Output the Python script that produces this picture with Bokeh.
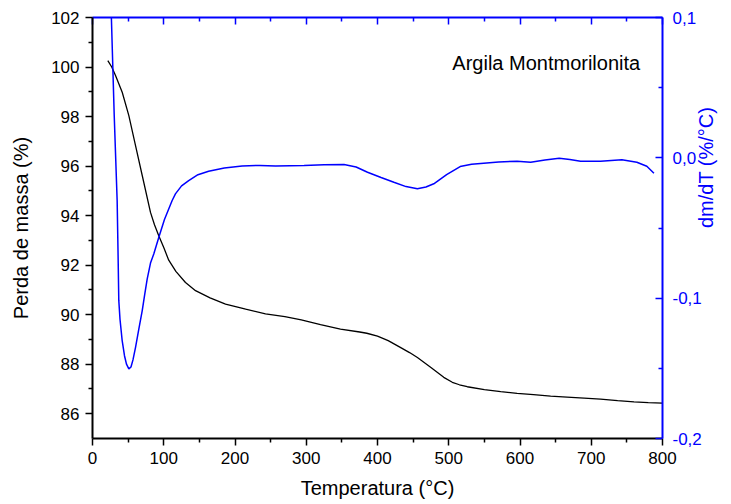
import math
from bokeh.plotting import figure
from bokeh.models import Range1d, LinearAxis, FixedTicker, CustomJSTickFormatter, Label
from bokeh.embed import file_html
from bokeh.resources import INLINE

# ---- data ----
temp_tg = [21.5, 27, 32.3, 41.7, 51, 60.4, 69.8, 81.4, 87, 93, 100, 107, 117, 130.5,
           144.6, 165, 186.7, 215, 242.8, 270, 293, 320, 348, 375, 385, 400, 415, 432,
           445, 456, 475, 493, 505, 515, 526, 550, 573, 596, 619, 643, 666, 690, 713,
           737, 760, 780, 800]
mass_tg = [100.26, 100.0, 99.66, 98.98, 98.04, 96.83, 95.62, 94.13, 93.63, 93.19, 92.71,
           92.2, 91.75, 91.30, 90.97, 90.68, 90.43, 90.22, 90.03, 89.92, 89.79, 89.6,
           89.42, 89.3, 89.25, 89.13, 88.95, 88.68, 88.47, 88.27, 87.87, 87.47, 87.27,
           87.17, 87.09, 86.97, 86.89, 86.82, 86.77, 86.71, 86.67, 86.63, 86.59, 86.53,
           86.48, 86.45, 86.43]

temp_dtg = [25, 26.5, 30.5, 34.6, 35.8, 36.9, 38.6, 41.6, 44.9, 47.7, 51, 54, 56.8, 60.4,
            65, 69.8, 73.4, 76.8, 81.4, 86.1, 93.1, 101, 111.8, 116.4, 125, 135, 148,
            163, 185, 210, 235, 257, 297, 325, 353, 370, 386, 405, 423, 440, 456, 468,
            479, 497, 516, 532, 549, 570, 596, 615, 635, 655, 670, 685, 713, 743, 764,
            778, 788]
dtg = [0.13, 0.10, 0.03, -0.0305, -0.066, -0.1016, -0.115, -0.130, -0.141, -0.147,
       -0.1504, -0.149, -0.144, -0.135, -0.122, -0.1088, -0.097, -0.0862, -0.075,
       -0.0684, -0.0566, -0.044, -0.0304, -0.0257, -0.020, -0.0162, -0.012, -0.0095,
       -0.0072, -0.0058, -0.0054, -0.0058, -0.0055, -0.005, -0.0048, -0.0065, -0.0103,
       -0.014, -0.0174, -0.0205, -0.0221, -0.0208, -0.0185, -0.012, -0.0062, -0.0045,
       -0.0038, -0.003, -0.0024, -0.0031, -0.0015, -0.0003, -0.0012, -0.0024, -0.0024,
       -0.0014, -0.0031, -0.006, -0.011]

x_major = [0, 100, 200, 300, 400, 500, 600, 700, 800]
x_minor = [50, 150, 250, 350, 450, 550, 650, 750]
y_major = [86, 88, 90, 92, 94, 96, 98, 100, 102]
y_minor = [87, 89, 91, 93, 95, 97, 99, 101]
y2_major = [-0.2, -0.1, 0.0, 0.1]
y2_minor = [-0.15, -0.05, 0.05]

title_text = "Argila Montmorilonita"
x_label = "Temperatura (°C)"
y_label = "Perda de massa (%)"
y2_label = "dm/dT (%/°C)"

FONT = "Liberation Sans"
BLUE = "#0000FF"

p = figure(width=731, height=504, output_backend="svg", toolbar_location=None,
           x_range=Range1d(0, 800), y_range=Range1d(85, 102),
           min_border_left=92, min_border_right=69, min_border_top=17,
           min_border_bottom=66)
p.outline_line_color = None
p.xgrid.visible = False
p.ygrid.visible = False
p.background_fill_color = "white"
p.border_fill_color = "white"

p.extra_y_ranges = {"dtg": Range1d(-0.2, 0.1)}

# lines
p.line(temp_tg, mass_tg, line_color="black", line_width=1.3)
p.line(temp_dtg, dtg, y_range_name="dtg", line_color=BLUE, line_width=1.5)

def style(ax, color, tick_in, tick_out, minor_in, minor_out):
    ax.axis_line_color = color
    ax.axis_line_width = 2
    ax.major_tick_line_color = color
    ax.minor_tick_line_color = color
    ax.major_tick_line_width = 1.5
    ax.minor_tick_line_width = 1.5
    ax.major_tick_in = tick_in
    ax.major_tick_out = tick_out
    ax.minor_tick_in = minor_in
    ax.minor_tick_out = minor_out
    ax.major_label_text_color = color
    ax.major_label_text_font = FONT
    ax.major_label_text_font_size = "17px"
    ax.axis_label_text_color = color
    ax.axis_label_text_font = FONT
    ax.axis_label_text_font_size = "20px"
    ax.axis_label_text_font_style = "normal"

# bottom axis
xb = p.xaxis[0]
xb.ticker = FixedTicker(ticks=x_major, minor_ticks=x_minor)
style(xb, "black", 0, 7, 0, 4)
xb.axis_label = x_label
xb.major_label_standoff = 6
xb.axis_label_standoff = 10

# left axis
yl = p.yaxis[0]
yl.ticker = FixedTicker(ticks=y_major, minor_ticks=y_minor)
style(yl, "black", 0, 7, 0, 4)
yl.axis_label = y_label
yl.major_label_standoff = 6
yl.axis_label_standoff = 16

# right axis (ticks + labels)
yr = LinearAxis(y_range_name="dtg",
                ticker=FixedTicker(ticks=y2_major, minor_ticks=y2_minor),
                formatter=CustomJSTickFormatter(code="return tick.toFixed(1).replace('.', ',');"))
style(yr, BLUE, 7, 0, 4, 0)
yr.major_label_standoff = 10
p.add_layout(yr, "right")

# second right axis carrying only the title, reads bottom-to-top
yr2 = LinearAxis(y_range_name="dtg", ticker=FixedTicker(ticks=[], minor_ticks=[]))
style(yr2, BLUE, 0, 0, 0, 0)
yr2.axis_line_color = None
yr2.major_tick_line_color = None
yr2.minor_tick_line_color = None
yr2.major_label_standoff = 0
yr2.axis_label = y2_label
yr2.axis_label_standoff = 1
yr2.axis_label_text_baseline = "top"
yr2.axis_label_orientation = math.pi / 2
p.add_layout(yr2, "right")

# top axis
xt = LinearAxis(ticker=FixedTicker(ticks=x_major, minor_ticks=x_minor))
style(xt, BLUE, 7, 0, 4, 0)
xt.major_label_text_font_size = "0px"
xt.major_label_standoff = 0
xt.major_label_text_alpha = 0
p.add_layout(xt, "above")

p.add_layout(Label(x=505, y=100.15, text=title_text, text_font=FONT,
                   text_font_size="20px", text_color="black",
                   text_baseline="alphabetic", text_align="left"))

open("out.html", "w").write(file_html(p, INLINE))
